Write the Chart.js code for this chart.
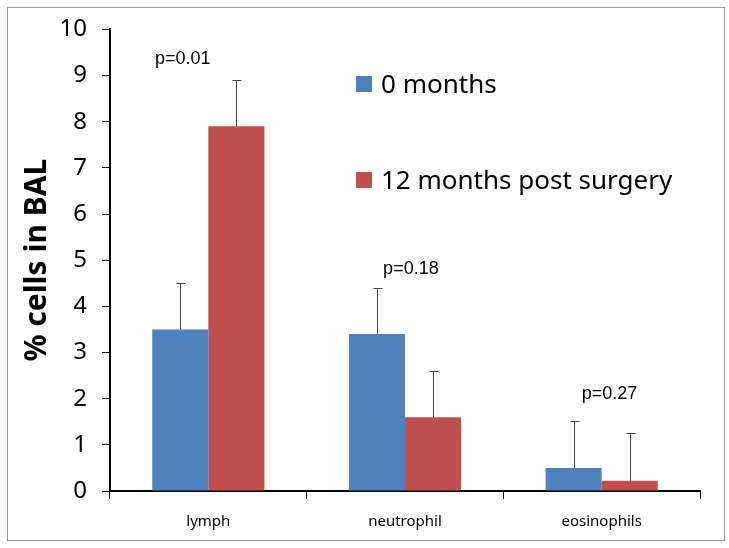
<!DOCTYPE html>
<html>
<head>
<meta charset="utf-8">
<script src="https://cdn.jsdelivr.net/npm/chart.js@4/dist/chart.umd.min.js"></script>
<style>
  html, body { margin: 0; padding: 0; background: #fff; }
  #wrap { position: relative; width: 729px; height: 548px; }
</style>
</head>
<body>
<div id="wrap"><canvas id="balChart" width="729" height="548"></canvas></div>
<script>
// ====== Données ======
const categories = ["lymph", "neutrophil", "eosinophils"];
const seriesNames = ["0 months", "12 months post surgery"];
const month0 = [3.5, 3.4, 0.5];
const month12 = [7.9, 1.6, 0.22];
const err0 = [1.0, 1.0, 1.02];
const err12 = [1.0, 1.0, 1.03];
const yTicks = [0, 1, 2, 3, 4, 5, 6, 7, 8, 9, 10];

// p-values : texte, position en catégorie (décalage), hauteur en unités y
const pTexts = ["p=0.01", "p=0.18", "p=0.27"];
const pOffsets = [-0.13, 0.03, 0.04];
const pLevels = [9.35, 4.8, 2.1];

const BLUE = "#4f81bd";
const RED = "#c0504d";

// ====== Plugins maison ======
const frame = {
  id: "frame",
  beforeDraw(chart) {
    const c = chart.ctx;
    c.save();
    c.fillStyle = "#fff";
    c.fillRect(0, 0, chart.width, chart.height);
    c.strokeStyle = "#9a9a9a";
    c.lineWidth = 1;
    c.strokeRect(7.5, 7.5, 717, 533);
    c.restore();
  }
};

const errorBars = {
  id: "errorBars",
  afterDatasetsDraw(chart) {
    const c = chart.ctx;
    const y = chart.scales.y;
    const errs = [err0, err12];
    c.save();
    c.strokeStyle = "#444";
    c.lineWidth = 1;
    chart.data.datasets.forEach((ds, i) => {
      chart.getDatasetMeta(i).data.forEach((bar, j) => {
        const top = y.getPixelForValue(ds.data[j] + errs[i][j]);
        const x = Math.round(bar.x) + 0.5;
        c.beginPath();
        c.moveTo(x, bar.y);
        c.lineTo(x, top);
        c.moveTo(x - 4, Math.round(top) + 0.5);
        c.lineTo(x + 5, Math.round(top) + 0.5);
        c.stroke();
      });
    });
    c.restore();
  }
};

const notes = {
  id: "notes",
  afterDraw(chart) {
    const c = chart.ctx;
    const xs = chart.scales.x, ys = chart.scales.y;
    c.save();
    c.fillStyle = "#000";
    c.font = "18px 'Liberation Sans', Arial, sans-serif";
    c.textAlign = "center";
    c.textBaseline = "middle";
    pTexts.forEach((t, i) => {
      const w = xs.getPixelForValue(1) - xs.getPixelForValue(0);
      c.fillText(t, xs.getPixelForValue(i) + pOffsets[i] * w, ys.getPixelForValue(pLevels[i]));
    });

    // légende dans la zone du graphique
    c.font = "26px 'Noto Sans', sans-serif";
    c.textAlign = "left";
    c.textBaseline = "alphabetic";
    const colors = [BLUE, RED];
    const legY = [93, 189];
    seriesNames.forEach((n, i) => {
      c.fillStyle = colors[i];
      c.fillRect(356, legY[i] - 17, 16, 16);
      c.fillStyle = "#000";
      c.fillText(n, 381, legY[i]);
    });
    c.restore();
  }
};

// ====== Graphique ======
new Chart(document.getElementById("balChart"), {
  type: "bar",
  data: {
    labels: categories,
    datasets: [
      { label: seriesNames[0], data: month0, backgroundColor: BLUE },
      { label: seriesNames[1], data: month12, backgroundColor: RED }
    ]
  },
  options: {
    responsive: false,
    animation: false,
    layout: { padding: { top: 28, right: 29, left: 19, bottom: 0 } },
    datasets: { bar: { categoryPercentage: 0.57, barPercentage: 1.0 } },
    plugins: { legend: { display: false }, tooltip: { enabled: false } },
    scales: {
      x: {
        afterFit(scale) { scale.height = 57; },
        grid: { drawOnChartArea: false, drawTicks: true, tickLength: 8, color: "#000", lineWidth: 1 },
        border: { color: "#000", width: 2 },
        ticks: { color: "#000", font: { family: "'Noto Sans', sans-serif", size: 15 }, padding: 14 }
      },
      y: {
        min: 0,
        max: 10,
        afterFit(scale) { scale.width = 91; },
        afterBuildTicks(scale) { scale.ticks = yTicks.map(v => ({ value: v })); },
        grid: { drawOnChartArea: false, drawTicks: true, tickLength: 8, color: "#000", lineWidth: 1 },
        border: { color: "#000", width: 2 },
        ticks: { color: "#000", font: { family: "'Noto Sans', sans-serif", size: 24 }, padding: 15 },
        title: {
          display: true,
          text: "% cells in BAL",
          color: "#000",
          font: { family: "'Noto Sans', sans-serif", size: 30, weight: "bold" },
          padding: { top: 0, bottom: 0 }
        }
      }
    }
  },
  plugins: [frame, errorBars, notes]
});
</script>
</body>
</html>
